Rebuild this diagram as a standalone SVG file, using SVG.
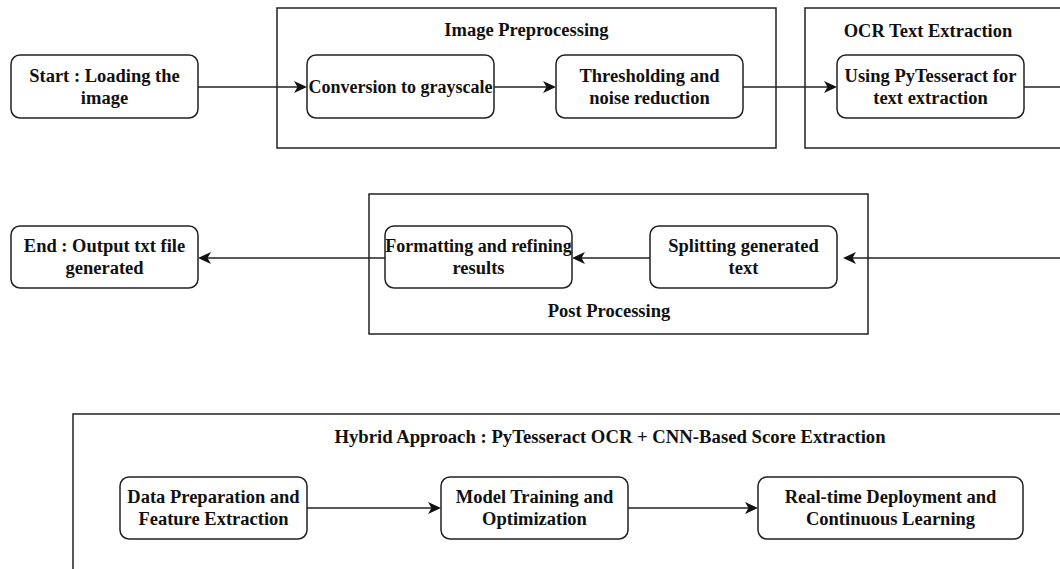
<svg xmlns="http://www.w3.org/2000/svg" width="1060" height="569" viewBox="0 0 1060 569">
<style>
  .bg { fill: #ffffff; }
  .container { fill: none; stroke: #222222; stroke-width: 1.5; }
  .box { fill: #ffffff; stroke: #222222; stroke-width: 1.5; }
  .t { font-family: "Liberation Serif", "Times New Roman", serif; font-weight: bold; font-size: 18.5px; fill: #111111; text-anchor: middle; }
  .tight { font-size: 18px; }
  .edge { fill: none; stroke: #222222; stroke-width: 1.5; }
  .arrow { marker-end: url(#ah); }
</style>
<defs>
  <marker id="ah" markerUnits="userSpaceOnUse" markerWidth="16" markerHeight="14" refX="11" refY="6" orient="auto" overflow="visible">
    <path d="M0,0 L13,6 L0,12 L3.5,6 Z" fill="#111111"/>
  </marker>
</defs>
<rect class="bg" x="0" y="0" width="1060" height="569"/>

<g id="container-image-preprocessing">
  <rect class="container" x="277" y="8" width="499" height="140"/>
  <text class="t" x="526.5" y="36">Image Preprocessing</text>
</g>
<g id="container-ocr">
  <rect class="container" x="805" y="8" width="280" height="140"/>
  <text class="t" x="928" y="37">OCR Text Extraction</text>
</g>
<g id="container-post-processing">
  <rect class="container" x="369" y="194" width="499" height="140"/>
  <text class="t" x="609" y="317">Post Processing</text>
</g>
<g id="container-hybrid">
  <rect class="container" x="73" y="414" width="1074" height="200"/>
  <text class="t" x="610" y="443" style="font-size:18.7px">Hybrid Approach : PyTesseract OCR + CNN-Based Score Extraction</text>
</g>

<g id="connectors">
  <path class="edge arrow" d="M198,87 L305,87"/>
  <path class="edge arrow" d="M494,87 L554,87"/>
  <path class="edge arrow" d="M743,87 L835,87"/>
  <path class="edge" d="M1024,87 L1060,87"/>
  <path class="edge arrow" d="M1060,258 L845,258"/>
  <path class="edge arrow" d="M650,258 L574,258"/>
  <path class="edge arrow" d="M385,258 L200,258"/>
  <path class="edge arrow" d="M307,508 L439,508"/>
  <path class="edge arrow" d="M628,508 L756,508"/>
</g>

<g id="node-start">
  <rect class="box" x="11" y="55" width="187" height="63" rx="9"/>
  <text class="t" x="104.5" y="82">Start : Loading the</text>
  <text class="t" x="104.5" y="104">image</text>
</g>
<g id="node-grayscale">
  <rect class="box" x="307" y="55" width="187" height="63" rx="9"/>
  <text class="t tight" x="400.5" y="93">Conversion to grayscale</text>
</g>
<g id="node-threshold">
  <rect class="box" x="556" y="55" width="187" height="63" rx="9"/>
  <text class="t" x="649.5" y="82">Thresholding and</text>
  <text class="t" x="649.5" y="104">noise reduction</text>
</g>
<g id="node-pytesseract">
  <rect class="box" x="837" y="55" width="187" height="63" rx="9"/>
  <text class="t" x="930.5" y="82">Using PyTesseract for</text>
  <text class="t" x="930.5" y="104">text extraction</text>
</g>
<g id="node-splitting">
  <rect class="box" x="650" y="226" width="187" height="62" rx="9"/>
  <text class="t" x="743.5" y="252">Splitting generated</text>
  <text class="t" x="743.5" y="274">text</text>
</g>
<g id="node-formatting">
  <rect class="box" x="385" y="226" width="187" height="62" rx="9"/>
  <text class="t tight" x="478.5" y="252">Formatting and refining</text>
  <text class="t" x="478.5" y="274">results</text>
</g>
<g id="node-end">
  <rect class="box" x="11" y="226" width="187" height="62" rx="9"/>
  <text class="t" x="104.5" y="252">End : Output txt file</text>
  <text class="t" x="104.5" y="274">generated</text>
</g>
<g id="node-data-prep">
  <rect class="box" x="120" y="477" width="187" height="62" rx="9"/>
  <text class="t" x="213.5" y="503">Data Preparation and</text>
  <text class="t" x="213.5" y="525">Feature Extraction</text>
</g>
<g id="node-model-training">
  <rect class="box" x="441" y="477" width="187" height="62" rx="9"/>
  <text class="t" x="534.5" y="503">Model Training and</text>
  <text class="t" x="534.5" y="525">Optimization</text>
</g>
<g id="node-deployment">
  <rect class="box" x="758" y="477" width="265" height="62" rx="9"/>
  <text class="t" x="890.5" y="503">Real-time Deployment and</text>
  <text class="t" x="890.5" y="525">Continuous Learning</text>
</g>
</svg>
